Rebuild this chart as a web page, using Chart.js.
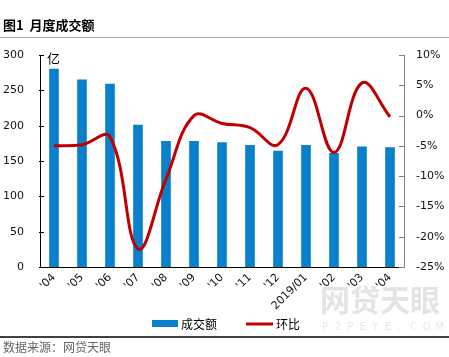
<!DOCTYPE html>
<html><head><meta charset="utf-8">
<script src="https://cdn.jsdelivr.net/npm/chart.js@4"></script>
<style>html,body{margin:0;padding:0;background:#fff;overflow:hidden}</style>
</head><body>
<canvas id="c" width="449" height="357"></canvas>
<script>
const categories = ["'04","'05","'06","'07","'08","'09","'10","'11","'12","2019/01","'02","'03","'04"];
const volume = [280, 265, 259, 201, 178, 178, 176, 172, 164, 172, 161, 170, 169];
const momChange = [-5.0, -4.8, -3.5, -22.0, -10.5, 0.0, -1.3, -2.0, -4.8, 4.5, -6.1, 5.4, -0.2];
const leftTicks = [0, 50, 100, 150, 200, 250, 300];
const rightTicks = [-25, -20, -15, -10, -5, 0, 5, 10];
const seriesNames = ["成交额", "环比"];
const titleText = "图1  月度成交额";
const unitText = "亿";
const sourceText = "数据来源：网贷天眼";

const BLUE = '#0A7FCB', RED = '#C00000';
const NUM_FONT = "'DejaVu Sans', sans-serif";
const CJK_FONT = "'Noto Sans CJK SC', sans-serif";

const decor = {
  id: 'decor',
  beforeDraw(chart) {
    const ctx = chart.ctx;
    ctx.save();
    ctx.fillStyle = '#e4e4e4';
    ctx.font = "bold 30px " + CJK_FONT;
    ctx.textBaseline = 'middle';
    ctx.textAlign = 'left';
    ctx.fillText('网贷天眼', 320, 300);
    ctx.font = "10px " + NUM_FONT;
    ctx.fillStyle = '#e8e8e8';
    const s = 'P2PEYE.COM';
    for (let i = 0; i < s.length; i++) ctx.fillText(s[i], 322 + i * 12.6, 327);
    ctx.restore();
  },
  afterDraw(chart) {
    const ctx = chart.ctx, a = chart.chartArea;
    const yL = chart.scales.y, yR = chart.scales.y1;
    ctx.save();
    // title
    ctx.fillStyle = '#000';
    ctx.font = "bold 13px " + CJK_FONT;
    ctx.textBaseline = 'middle';
    ctx.textAlign = 'left';
    ctx.fillText(titleText, 3, 25);
    ctx.strokeStyle = '#a6a6a6';
    ctx.lineWidth = 1;
    ctx.beginPath(); ctx.moveTo(0, 37.5); ctx.lineTo(449, 37.5); ctx.stroke();
    // unit
    ctx.font = "13px " + CJK_FONT;
    ctx.fillText(unitText, 47, 58);
    // tick marks
    ctx.strokeStyle = '#000';
    ctx.beginPath();
    leftTicks.forEach(v => { const y = Math.round(yL.getPixelForValue(v)) + 0.5; ctx.moveTo(a.left - 1, y); ctx.lineTo(a.left + 4, y); });
    ctx.stroke();
    ctx.strokeStyle = '#808080';
    ctx.beginPath();
    rightTicks.forEach(v => { const y = Math.round(yR.getPixelForValue(v)) + 0.5; ctx.moveTo(a.right - 5, y); ctx.lineTo(a.right + 1, y); });
    ctx.stroke();
    // legend
    ctx.fillStyle = BLUE;
    ctx.fillRect(152, 320, 26, 7);
    ctx.fillStyle = '#000';
    ctx.font = "12px " + CJK_FONT;
    ctx.fillText(seriesNames[0], 181, 324);
    ctx.strokeStyle = RED; ctx.lineWidth = 3;
    ctx.beginPath(); ctx.moveTo(246, 324); ctx.lineTo(273, 324); ctx.stroke();
    ctx.fillText(seriesNames[1], 276, 324);
    // bottom line & source
    ctx.strokeStyle = '#000'; ctx.lineWidth = 1.3;
    ctx.beginPath(); ctx.moveTo(0, 337); ctx.lineTo(449, 337); ctx.stroke();
    ctx.fillStyle = '#666';
    ctx.font = "12px " + CJK_FONT;
    ctx.fillText(sourceText, 3, 347);
    ctx.restore();
  }
};

new Chart(document.getElementById('c'), {
  type: 'bar',
  data: {
    labels: categories,
    datasets: [
      { type: 'line', label: seriesNames[1], data: momChange, yAxisID: 'y1', borderColor: RED, backgroundColor: RED,
        borderWidth: 3, pointRadius: 0, tension: 0.4, order: 0 },
      { type: 'bar', label: seriesNames[0], data: volume, yAxisID: 'y', backgroundColor: BLUE,
        barThickness: 9, order: 1 }
    ]
  },
  options: {
    responsive: false,
    animation: false,
    layout: { padding: { top: 55, left: 0, right: 0, bottom: 0 } },
    plugins: { legend: { display: false }, tooltip: { enabled: false } },
    scales: {
      x: {
        grid: { display: false, drawTicks: false },
        border: { display: true, color: '#000', width: 1 },
        ticks: { color: '#111', font: { family: NUM_FONT, size: 11 }, minRotation: 45, maxRotation: 45, padding: 4, autoSkip: false },
        afterFit(s) { s.height = 90; }
      },
      y: {
        position: 'left', min: 0, max: 300,
        grid: { display: false, drawTicks: false },
        border: { display: true, color: '#000', width: 1 },
        ticks: { stepSize: 50, color: '#111', font: { family: NUM_FONT, size: 11 }, padding: 16 },
        afterFit(s) { s.width = 40; }
      },
      y1: {
        position: 'right', min: -25, max: 10,
        grid: { display: false, drawTicks: false },
        border: { display: true, color: '#808080', width: 1 },
        ticks: { stepSize: 5, color: '#111', font: { family: NUM_FONT, size: 11 }, padding: 12, callback: v => v + '%' },
        afterFit(s) { s.width = 45; }
      }
    }
  },
  plugins: [decor]
});
</script>
</body></html>
